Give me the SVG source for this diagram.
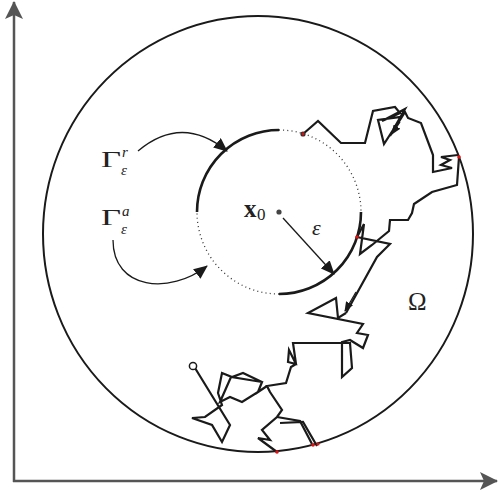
<svg xmlns="http://www.w3.org/2000/svg" width="498" height="492" viewBox="0 0 498 492">
<defs>
<marker id="ah" markerUnits="userSpaceOnUse" markerWidth="14" markerHeight="12" viewBox="0 0 14 12" refX="13" refY="6" orient="auto"><path d="M0,0 L14,6 L0,12 z" fill="#1a1a1a"/></marker>
<marker id="ax" markerUnits="userSpaceOnUse" markerWidth="18" markerHeight="18" viewBox="0 0 18 18" refX="17" refY="9" orient="auto"><path d="M0,0 L18,9 L0,18 L4,9 z" fill="#555"/></marker>
<marker id="sm" markerUnits="userSpaceOnUse" markerWidth="10" markerHeight="8" viewBox="0 0 10 8" refX="9" refY="4" orient="auto"><path d="M0,0 L10,4 L0,8 z" fill="#1a1a1a"/></marker>
<style>
.axis{stroke:#555;stroke-width:2.5;fill:none}
.bd{stroke:#1a1a1a;stroke-width:2;fill:none}
.solid{stroke:#1a1a1a;stroke-width:2.6;fill:none}
.dot{stroke:#333;stroke-width:1.3;fill:none;stroke-dasharray:1 3.2}
.walk{stroke:#1a1a1a;stroke-width:2.2;fill:none;stroke-linejoin:miter}
.conn{stroke:#1a1a1a;stroke-width:1.3;fill:none}
.red{fill:#e01010}
text{font-family:"Liberation Serif","DejaVu Serif",serif;fill:#222}
</style>
</defs>
<g id="axes">
<path class="axis" d="M14,482 L14,2" marker-end="url(#ax)"/>
<path class="axis" d="M13,481 L497,481" marker-end="url(#ax)"/>
</g>
<g id="omega">
<ellipse class="bd" cx="258" cy="234" rx="215" ry="218"/>
<text x="408" y="310" font-size="25">Ω</text>
</g>
<g id="ball">
<path class="solid" d="M197,212 A82,82 0 0 1 279,130"/>
<path class="dot" d="M279,130 A82,82 0 0 1 361,212"/>
<path class="solid" d="M361,212 A82,82 0 0 1 279,294"/>
<path class="dot" d="M279,294 A82,82 0 0 1 197,212"/>
<circle cx="279" cy="212" r="2.6" fill="#444"/>
<text x="244" y="217" font-size="25" font-weight="bold">x</text>
<text x="257" y="220" font-size="17">0</text>
<text x="312" y="235" font-size="22" font-style="italic">ε</text>
</g>
<g id="gamma-r">
<text x="101" y="167" font-size="24" textLength="20" lengthAdjust="spacingAndGlyphs">Γ</text>
<text x="122" y="157" font-size="15" font-style="italic">r</text>
<text x="121" y="175" font-size="15" font-style="italic">ε</text>
</g>
<g id="gamma-a">
<text x="101" y="225" font-size="24" textLength="20" lengthAdjust="spacingAndGlyphs">Γ</text>
<text x="122" y="216" font-size="15" font-style="italic">a</text>
<text x="121" y="234" font-size="15" font-style="italic">ε</text>
</g>
<g id="walks">
<polyline class="walk" points="303,134 318,121 341,143 365,143 373,111 395,107 400,113 382,121 405,109 393,130 384,144 378,120 401,117 390,136 405,112 408,118 421,123 433,155 433,172 452,168 441,165 450,160 441,157 458,155"/>
<polyline class="walk" points="459,157 457,185 432,192 414,204 412,213 408,220 390,220 389,231 372,245 360,254 364,224 357,237 390,244 377,257 346,313"/>
<polyline class="walk" points="346,313 338,318 336,298 308,313 363,324 357,333 368,335 363,348 350,340 342,342 342,377 352,368 350,343 293,343 296,364 288,362 289,350 296,364 291,367 286,383 267,386 270,392 282,410 277,417 262,430 270,440 258,438 277,452"/>
<polyline class="walk" points="277,417 300,421 312,444"/>
<polyline class="walk" points="280,423 303,422 317,446"/>
<polyline class="walk" points="195,368 230,425 222,442 212,425 192,418 205,417 222,405 218,393 222,373 232,377 243,373 262,382 258,392 242,402 230,397 220,402 231,377 262,382 258,392 267,386"/>
<circle cx="193" cy="366" r="3.6" fill="#fff" stroke="#1a1a1a" stroke-width="1.5"/>
<circle cx="303" cy="134" r="2.6" fill="#333"/>
<circle class="red" cx="303" cy="134" r="1.4"/>
<circle class="red" cx="357" cy="237" r="1.8"/>
<circle class="red" cx="459" cy="157" r="1.8"/>
<circle class="red" cx="277" cy="452" r="1.8"/>
<circle class="red" cx="313" cy="445" r="1.8"/>
<circle class="red" cx="318" cy="444" r="1.6"/>
</g>
<g id="connectors">
<path class="conn" d="M138,151 Q182,114 227,151" marker-end="url(#ah)"/>
<path class="conn" d="M113,240 C113,290 170,295 207,266" marker-end="url(#ah)"/>
<path class="conn" d="M283,218 L334,274" marker-end="url(#ah)"/>
<path class="conn" d="M356,292 L345,311" marker-end="url(#sm)"/>
<path class="conn" d="M400,122 L392,134" marker-end="url(#sm)"/>
</g>
</svg>
